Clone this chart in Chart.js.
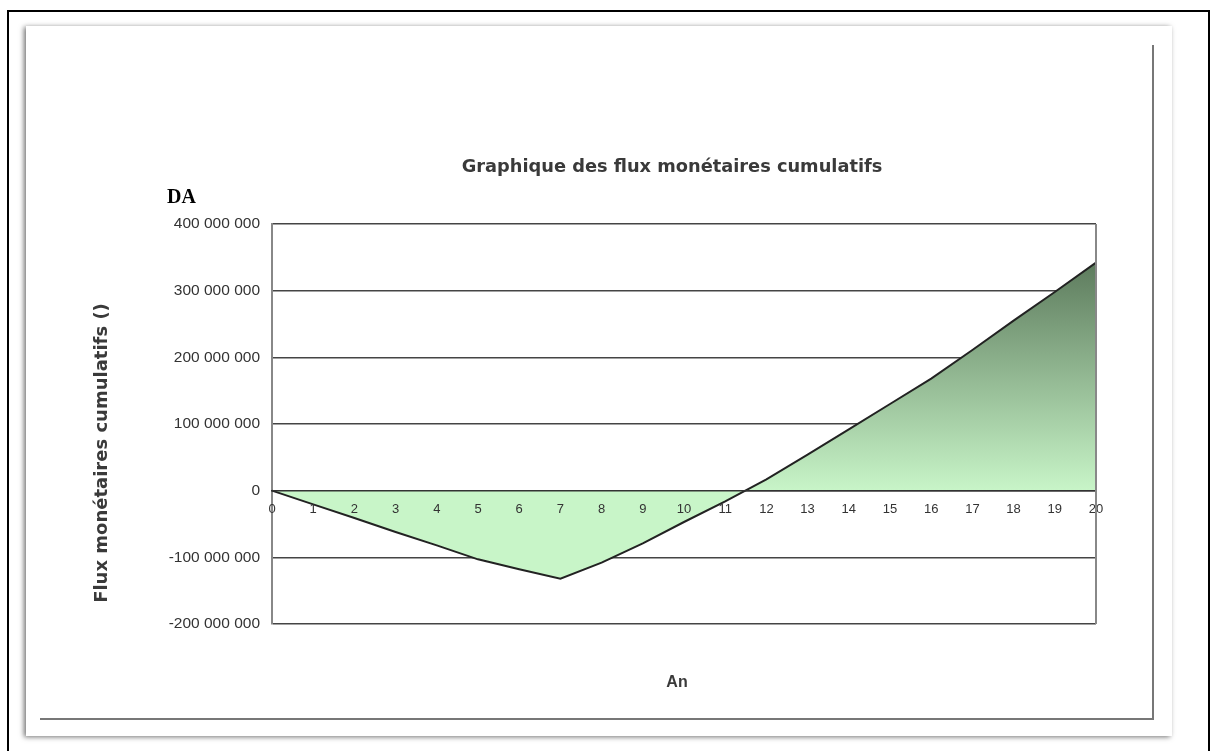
<!DOCTYPE html>
<html>
<head>
<meta charset="utf-8">
<script src="https://cdn.jsdelivr.net/npm/chart.js@4/dist/chart.umd.min.js"></script>
<style>
	html, body { margin: 0; padding: 0; background: #fff; }
	#wrap { position: relative; width: 1214px; height: 751px; overflow: hidden; }
	.outer { position: absolute; left: 7px; top: 10px; width: 1199px; height: 760px; border: 2px solid #000; }
	.paper { position: absolute; left: 26px; top: 26px; width: 1146px; height: 710px; background: #fff;
		box-shadow: -2px 1px 5px rgba(0,0,0,0.55); }
	.frame { position: absolute; left: 40px; top: 45px; width: 1112px; height: 673px;
		border-right: 2px solid #777; border-bottom: 2px solid #777; }
	canvas { position: absolute; left: 0; top: 0; }
</style>
</head>
<body>
<div id="wrap">
	<div class="outer"></div>
	<div class="paper"></div>
	<div class="frame"></div>
	<canvas id="myChart" width="1214" height="751"></canvas>
</div>
<script>
// years and cumulative cash flows (DA)
const annees = ['0', '1', '2', '3', '4', '5', '6', '7', '8', '9', '10',
	'11', '12', '13', '14', '15', '16', '17', '18', '19', '20'];
const fluxCumules = [0, -20600000, -41000000, -62000000, -82000000, -103000000, -118000000, -132000000,
	-108000000, -79000000, -47000000, -16000000, 17000000, 54000000, 92000000, 130000000,
	168000000, 211000000, 255000000, 298000000, 342000000];
const yMin = -200000000;
const yMax = 400000000;
const yStep = 100000000;

function formatDA(v) {
	const s = String(Math.abs(v)).replace(/\B(?=(\d{3})+(?!\d))/g, ' ');
	return (v < 0 ? '-' : '') + s;
}

// frame, titles and labels that Excel puts around the plot
const decor = {
	id: 'decor',
	afterDraw(chart) {
		const c = chart.ctx;
		const a = chart.chartArea;
		c.save();
		c.strokeStyle = '#888';
		c.lineWidth = 2;
		c.beginPath();
		c.moveTo(a.right, a.top);
		c.lineTo(a.right, a.bottom);
		c.stroke();

		c.fillStyle = '#3a3a3a';
		c.textAlign = 'center';
		c.textBaseline = 'middle';
		c.font = 'bold 17.8px "DejaVu Sans"';
		c.fillText('Graphique des flux monétaires cumulatifs', 672, 167);

		c.font = 'bold 16px "Liberation Sans"';
		c.fillText('An', 677, 683);

		c.save();
		c.translate(102, 453);
		c.rotate(-Math.PI / 2);
		c.font = 'bold 18px "DejaVu Sans"';
		c.fillText('Flux monétaires cumulatifs ()', 0, 0);
		c.restore();

		c.fillStyle = '#000';
		c.textAlign = 'left';
		c.font = 'bold 20px "Liberation Serif"';
		c.fillText('DA', 167, 198);
		c.restore();
	}
};

function initialize() {
	const ctx = document.getElementById('myChart');
	new Chart(ctx, {
		type: 'line',
		data: {
			labels: annees,
			datasets: [{
				label: 'Flux monétaires cumulatifs',
				data: fluxCumules,
				borderColor: '#222',
				borderWidth: 2,
				pointRadius: 0,
				tension: 0,
				fill: 'origin',
				backgroundColor: function(context) {
					const chart = context.chart;
					const y = chart.scales.y;
					if (!chart.chartArea || !y) return '#c8f5c8';
					const g = chart.ctx.createLinearGradient(0, y.getPixelForValue(0), 0, y.getPixelForValue(345000000));
					g.addColorStop(0, '#c8f5c8');
					g.addColorStop(1, '#5c7a5c');
					return g;
				}
			}]
		},
		options: {
			responsive: false,
			animation: false,
			layout: { padding: { left: 0, top: 224, right: 118, bottom: 127 } },
			plugins: { legend: { display: false }, tooltip: { enabled: false } },
			scales: {
				x: {
					position: { y: 0 },
					offset: false,
					grid: { display: false, drawTicks: false },
					border: { display: true, color: '#333', width: 1.5, z: 1 },
					ticks: {
						z: 1, autoSkip: false, maxRotation: 0, padding: 11,
						color: '#333', font: { family: 'Liberation Sans', size: 13 }
					}
				},
				y: {
					min: yMin,
					max: yMax,
					afterFit(scale) { scale.width = 272; },
					grid: { color: '#444', lineWidth: 1.5, drawTicks: false },
					border: { display: true, color: '#888', width: 2 },
					ticks: {
						stepSize: yStep, padding: 12,
						color: '#333', font: { family: 'Liberation Sans', size: 15.5 },
						callback: formatDA
					}
				}
			}
		},
		plugins: [decor]
	});
} //initialize

initialize();
</script>
</body>
</html>
